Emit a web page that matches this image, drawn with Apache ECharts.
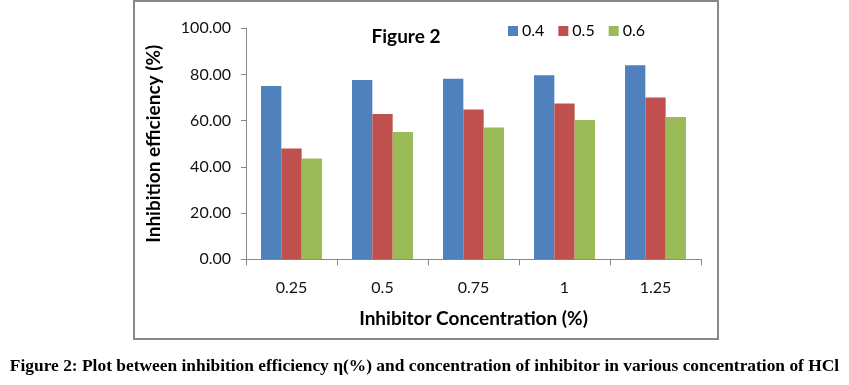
<!DOCTYPE html>
<html><head><meta charset="utf-8">
<script src="https://cdn.jsdelivr.net/npm/echarts@6/dist/echarts.min.js"></script>
<style>html,body{margin:0;padding:0;background:#fff}#c{width:849px;height:385px}</style>
</head><body><div id="c"></div>
<script>
const categories = ['0.25', '0.5', '0.75', '1', '1.25'];
const seriesNames = ['0.4', '0.5', '0.6'];
const s04 = [75.0, 77.6, 78.2, 79.7, 84.0];
const s05 = [48.0, 62.9, 64.9, 67.4, 70.0];
const s06 = [43.6, 55.1, 57.1, 60.3, 61.6];
const yTicks = [0, 20, 40, 60, 80, 100];
const colors = ['#4F81BD', '#C0504D', '#9BBB59'];
const font = 'Lato, "Open Sans", sans-serif';

const chart = echarts.init(document.getElementById('c'), null, {renderer: 'canvas'});
const data = [s04, s05, s06];
chart.setOption({
  animation: false,
  backgroundColor: '#fff',
  title: {
    text: 'Figure 2', left: 401, top: 22, textAlign: 'center',
    textStyle: {fontFamily: font, fontSize: 19, fontWeight: 'bold', color: '#000'}
  },
  legend: {
    data: seriesNames, left: 503, top: 18, icon: 'rect', itemWidth: 10, itemHeight: 10,
    itemGap: 14,
    textStyle: {fontFamily: font, fontSize: 16, color: '#000', padding: [0, 0, 0, -1]}
  },
  grid: {left: 246, right: 148, top: 28.3, bottom: 125.7, containLabel: false},
  xAxis: {
    type: 'category', data: categories, boundaryGap: true,
    name: 'Inhibitor Concentration (%)', nameLocation: 'middle', nameGap: 50,
    nameTextStyle: {fontFamily: font, fontSize: 19, fontWeight: 'bold', color: '#000'},
    axisLine: {lineStyle: {color: '#868686', width: 1}},
    axisTick: {show: true, alignWithLabel: false, length: 6, lineStyle: {color: '#868686'}},
    axisLabel: {fontFamily: font, fontSize: 16, color: '#111', margin: 21}
  },
  yAxis: {
    type: 'value', min: yTicks[0], max: yTicks[yTicks.length - 1], interval: 20,
    name: 'Inhibition efficiency (%)', nameLocation: 'middle', nameGap: 83,
    nameTextStyle: {fontFamily: font, fontSize: 19, fontWeight: 'bold', color: '#000'},
    axisLine: {show: true, lineStyle: {color: '#868686', width: 1}},
    axisTick: {show: true, length: 5, lineStyle: {color: '#868686'}},
    splitLine: {show: false},
    axisLabel: {fontFamily: font, fontSize: 16, color: '#111', margin: 15,
      formatter: v => v.toFixed(2)}
  },
  series: seriesNames.map((n, i) => ({
    name: n, type: 'bar', data: data[i], barGap: '0%', barCategoryGap: '33%',
    itemStyle: {color: colors[i]}
  })),
  graphic: [
    {type: 'rect', shape: {x: 134, y: 1, width: 584, height: 338},
     style: {fill: 'none', stroke: '#888', lineWidth: 2}, silent: true},
    {type: 'text', left: 'center', top: 358,
     style: {text: 'Figure 2: Plot between inhibition efficiency η(%) and concentration of inhibitor in various concentration of HCl',
       font: 'bold 17.4px "Liberation Serif", "Times New Roman", serif', fill: '#000'}}
  ]
});
</script></body></html>
